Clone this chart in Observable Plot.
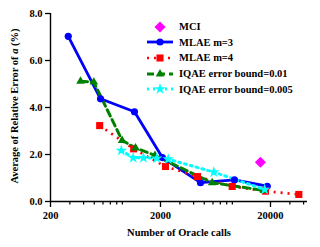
<!DOCTYPE html>
<html>
<head>
<meta charset="utf-8">
<script src="https://cdn.jsdelivr.net/npm/d3@7"></script>
<script src="https://cdn.jsdelivr.net/npm/@observablehq/plot@0.6"></script>
<style>
  html, body { margin: 0; padding: 0; background: #fff; }
  #wrap { position: relative; width: 320px; height: 247px; font-family: "Liberation Serif", "Times New Roman", serif; font-weight: bold; color: #000; }
  #ytitle { position: absolute; left: 14px; top: 106px; transform: translate(-50%, -50%) rotate(-90deg); white-space: nowrap; font-size: 10.5px; }
  #legend { position: absolute; left: 146px; top: 19px; font-size: 10.5px; }
  .row { display: flex; align-items: center; height: 15.6px; white-space: nowrap; }
  .row svg { width: 28px; height: 12px; margin-right: 5px; overflow: visible; }
</style>
</head>
<body>
<div id="wrap"></div>
<script>
// ---- data ----
const mlae3Calls = [290, 570, 1160, 2080, 4620, 9400, 18700];
const mlae3Err   = [7.03, 4.37, 3.82, 1.87, 0.80, 0.92, 0.65];

const mlae4Calls = [560, 1140, 2220, 4340, 8970, 18000, 36200];
const mlae4Err   = [3.23, 2.24, 1.49, 1.06, 0.64, 0.44, 0.30];

const iqae01Calls = [375, 495, 896, 1185, 1780, 5900, 17400];
const iqae01Err   = [5.12, 5.08, 2.60, 2.28, 1.96, 0.80, 0.47];

const iqae005Calls = [880, 1130, 1400, 1850, 2350, 6100, 17700];
const iqae005Err   = [2.17, 1.86, 1.86, 1.84, 1.80, 1.25, 0.51];

const mciCalls = [16200];
const mciErr   = [1.67];

const xMajorTicks = [200, 2000, 20000];
const xMinorTicks = [300, 400, 500, 600, 700, 800, 900, 3000, 4000, 5000, 6000, 7000, 8000, 9000, 30000, 40000];
const yTicks = [0, 2, 4, 6, 8];

const seriesNames = ["MCI", "MLAE m=3", "MLAE m=4", "IQAE error bound=0.01", "IQAE error bound=0.005"];

// ---- build ----
const toRows = (xs, ys) => xs.map((x, i) => ({x, y: ys[i]}));
const mlae3 = toRows(mlae3Calls, mlae3Err);
const mlae4 = toRows(mlae4Calls, mlae4Err);
const iq01 = toRows(iqae01Calls, iqae01Err);
const iq005 = toRows(iqae005Calls, iqae005Err);
const mci = toRows(mciCalls, mciErr);

const styles = [
  {color: "#ff00ff", symbol: "diamond2", r: 5, line: null},
  {color: "#0000ff", symbol: "circle", r: 3.6, line: {w: 2.8, dash: null}},
  {color: "#ff0000", symbol: "square", r: 4, line: {w: 2.6, dash: "2,5"}},
  {color: "#008000", symbol: "triangle", r: 3.2, line: {w: 3, dash: "7,4"}},
  {color: "#00ffff", symbol: "star", r: 3.6, line: {w: 3, dash: "2,4"}}
];

const chart = Plot.plot({
  width: 320,
  height: 247,
  marginLeft: 50,
  marginRight: 13,
  marginTop: 13,
  marginBottom: 46,
  style: {fontFamily: "'Liberation Serif', 'Times New Roman', serif", fontWeight: "bold", fontSize: "10.5px", color: "#000", background: "transparent"},
  x: {type: "log", domain: [200, 43400]},
  y: {domain: [0, 8]},
  marks: [
    Plot.axisY({ticks: yTicks, tickFormat: d3.format(".1f"), tickSize: 5, tickPadding: 3, label: null, strokeWidth: 1.3}),
    Plot.axisX({ticks: xMinorTicks, tickSize: 3.5, tickFormat: () => "", label: null, strokeWidth: 1.2}),
    Plot.axisX({ticks: xMajorTicks, tickSize: 6, tickPadding: 4, tickFormat: d => String(d), label: "Number of Oracle calls", labelAnchor: "center", labelArrow: "none", labelOffset: 34, strokeWidth: 1.3}),
    Plot.ruleX([200], {stroke: "#000", strokeWidth: 1.4}),
    Plot.ruleY([0], {stroke: "#000", strokeWidth: 1.4}),
    // lines
    Plot.line(mlae3, {x: "x", y: "y", stroke: styles[1].color, strokeWidth: styles[1].line.w}),
    Plot.line(mlae4, {x: "x", y: "y", stroke: styles[2].color, strokeWidth: styles[2].line.w, strokeDasharray: styles[2].line.dash, strokeLinecap: "butt"}),
    Plot.line(iq01, {x: "x", y: "y", stroke: styles[3].color, strokeWidth: styles[3].line.w, strokeDasharray: styles[3].line.dash}),
    Plot.line(iq005, {x: "x", y: "y", stroke: styles[4].color, strokeWidth: styles[4].line.w, strokeDasharray: styles[4].line.dash}),
    // markers
    Plot.dot(mlae3, {x: "x", y: "y", symbol: styles[1].symbol, r: styles[1].r, fill: styles[1].color}),
    Plot.dot(mlae4, {x: "x", y: "y", symbol: styles[2].symbol, r: styles[2].r, fill: styles[2].color}),
    Plot.dot(iq01, {x: "x", y: "y", symbol: styles[3].symbol, r: styles[3].r, fill: styles[3].color}),
    Plot.dot(iq005, {x: "x", y: "y", symbol: styles[4].symbol, r: styles[4].r, fill: styles[4].color}),
    Plot.dot(mci, {x: "x", y: "y", symbol: styles[0].symbol, r: styles[0].r, fill: styles[0].color})
  ]
});

const wrap = document.getElementById("wrap");
wrap.appendChild(chart);

// y title with italic "a"
const yt = document.createElement("div");
yt.id = "ytitle";
yt.innerHTML = "Average of Relative Error of <i>a</i> (%)";
wrap.appendChild(yt);

// legend
const legend = document.createElement("div");
legend.id = "legend";
const symPath = (name, r) => {
  const map = {circle: d3.symbolCircle, square: d3.symbolSquare, triangle: d3.symbolTriangle, star: d3.symbolStar, diamond2: d3.symbolDiamond2};
  return d3.symbol(map[name], r * r * Math.PI)();
};
seriesNames.forEach((name, i) => {
  const s = styles[i];
  const row = document.createElement("div");
  row.className = "row";
  const ns = "http://www.w3.org/2000/svg";
  const svg = document.createElementNS(ns, "svg");
  svg.setAttribute("viewBox", "0 0 28 12");
  if (s.line) {
    const ln = document.createElementNS(ns, "line");
    ln.setAttribute("x1", 1); ln.setAttribute("x2", 27);
    ln.setAttribute("y1", 6); ln.setAttribute("y2", 6);
    ln.setAttribute("stroke", s.color);
    ln.setAttribute("stroke-width", s.line.w);
    if (s.line.dash) ln.setAttribute("stroke-dasharray", s.line.dash);
    svg.appendChild(ln);
  }
  const p = document.createElementNS(ns, "path");
  p.setAttribute("d", symPath(s.symbol, s.r));
  p.setAttribute("transform", "translate(14,6)");
  p.setAttribute("fill", s.color);
  svg.appendChild(p);
  row.appendChild(svg);
  const t = document.createElement("span");
  t.textContent = name;
  row.appendChild(t);
  legend.appendChild(row);
});
wrap.appendChild(legend);
</script>
</body>
</html>
